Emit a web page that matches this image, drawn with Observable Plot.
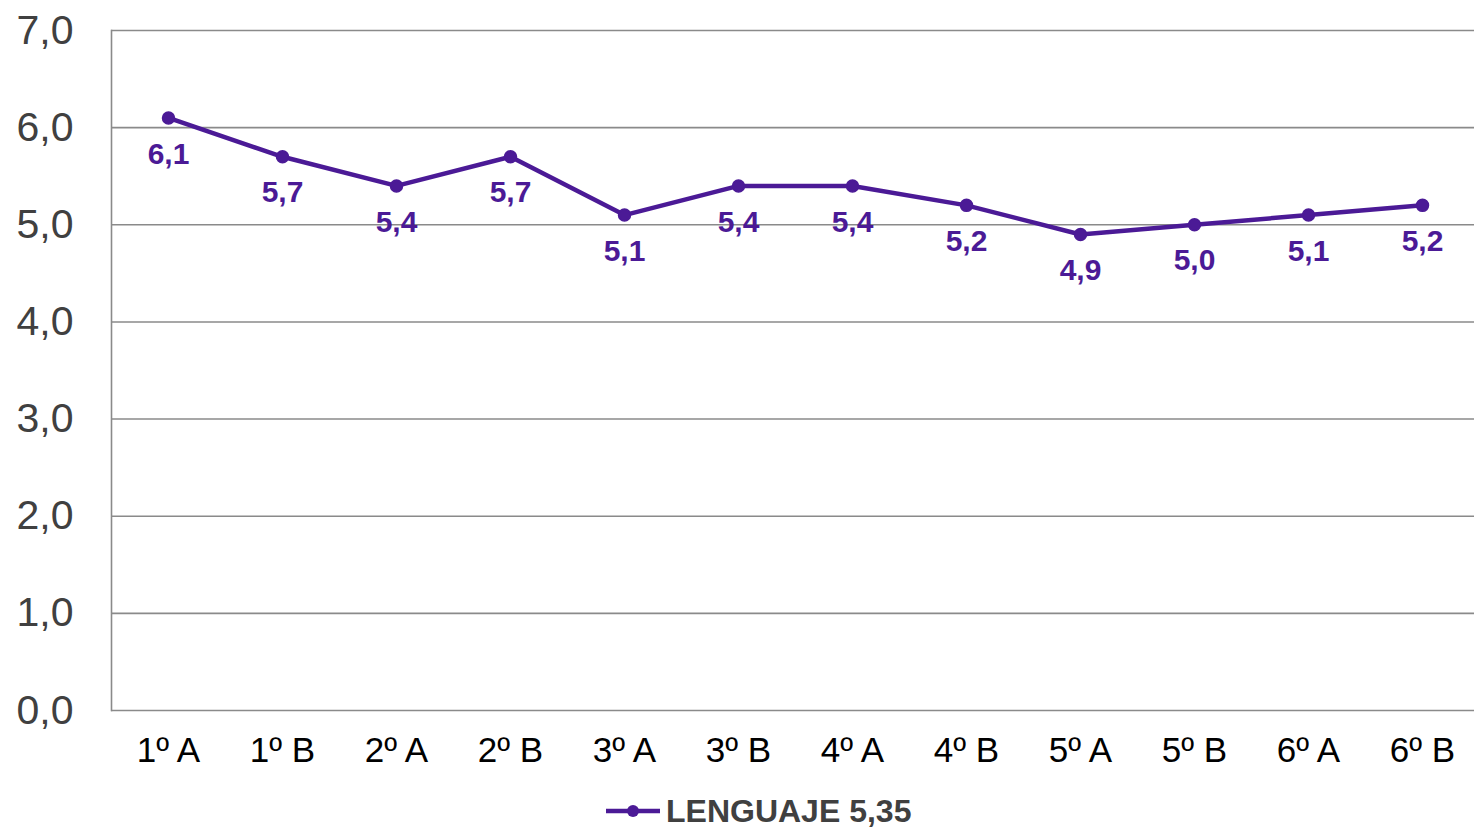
<!DOCTYPE html>
<html><head><meta charset="utf-8">
<script src="https://cdn.jsdelivr.net/npm/d3@7"></script>
<script src="https://cdn.jsdelivr.net/npm/@observablehq/plot@0.6"></script>
<style>
body{margin:0;background:#fff;font-family:"Liberation Sans",Arial,sans-serif;}
#legend{position:relative;height:36px;}
</style>
</head><body>
<div id="chart"></div>
<div id="legend"></div>
<script>
const categories = ["1º A","1º B","2º A","2º B","3º A","3º B","4º A","4º B","5º A","5º B","6º A","6º B"];
const values = [6.1,5.7,5.4,5.7,5.1,5.4,5.4,5.2,4.9,5.0,5.1,5.2];
const yTicks = [0,1,2,3,4,5,6,7];
const seriesName = "LENGUAJE 5,35";

const data = categories.map((c,i)=>({cat:c, v:values[i]}));
const fmt = d => d.toFixed(1).replace(".", ",");
const purple = "#4B1A96";

const plot = Plot.plot({
  width: 1474,
  height: 793,
  marginLeft: 111,
  marginRight: 0,
  marginTop: 30,
  marginBottom: 83,
  style: {fontFamily: '"Liberation Sans", Arial, sans-serif', color: "#404040", background: "#fff"},
  x: {type: "point", domain: categories, range: [168, 1422], padding: 0},
  y: {domain: [0, 7], range: [710, 30]},
  marks: [
    Plot.ruleY(yTicks, {stroke: "#8a8a8a", strokeWidth: 1.6}),
    Plot.frame({anchor: "left", stroke: "#8a8a8a", strokeWidth: 1.6}),
    Plot.axisY({ticks: yTicks, tickFormat: fmt, tickSize: 0, tickPadding: 38, fontSize: 41, label: null}),
    Plot.axisX({tickSize: 0, tickPadding: 27, fontSize: 35, fill: "#000", label: null}),
    Plot.line(data, {x: "cat", y: "v", stroke: purple, strokeWidth: 4.5}),
    Plot.dot(data, {x: "cat", y: "v", r: 6, fill: purple, stroke: purple}),
    Plot.text(data, {x: "cat", y: "v", text: d => fmt(d.v), dy: 36, fontSize: 30, fontWeight: "bold", fill: purple})
  ]
});
document.getElementById("chart").appendChild(plot);

// legend
const lg = d3.select("#legend").append("svg").attr("width", 1474).attr("height", 36);
lg.append("line").attr("x1", 606).attr("x2", 660).attr("y1", 18).attr("y2", 18).attr("stroke", purple).attr("stroke-width", 4.5);
lg.append("circle").attr("cx", 633).attr("cy", 18).attr("r", 6).attr("fill", purple);
lg.append("text").attr("x", 666).attr("y", 18).attr("dy", "0.35em").attr("font-size", 32).attr("font-weight", "bold")
  .attr("fill", "#404040").attr("font-family", '"Liberation Sans", Arial, sans-serif').text(seriesName);
</script>
</body></html>
